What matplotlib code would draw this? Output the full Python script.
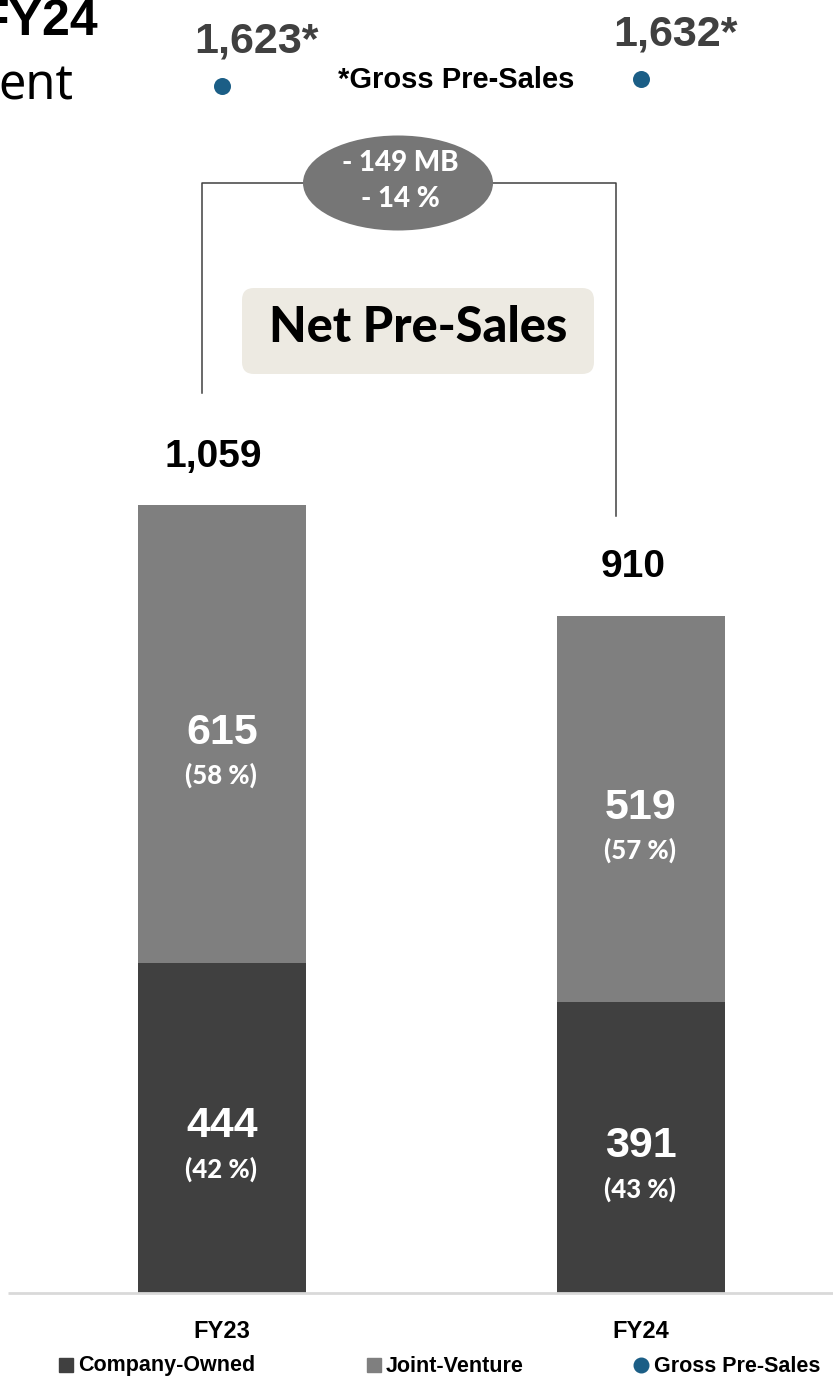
import matplotlib
matplotlib.use("Agg")
import matplotlib.pyplot as plt
from matplotlib.patches import Ellipse, FancyBboxPatch
from matplotlib.transforms import blended_transform_factory
import numpy as np

# ---- data -------------------------------------------------------------
periods = ["FY23", "FY24"]
company_owned = [444, 391]
joint_venture = [615, 519]
gross_presales = [1623, 1632]
legend_labels = ["Company-Owned", "Joint-Venture", "Gross Pre-Sales"]

# ---- style ------------------------------------------------------------
DARK = "#404040"
MID = "#7f7f7f"
BLUE = "#1b5e86"
OVAL = "#767676"
BOX = "#edeae2"
BASE = "#d9d9d9"
ARIAL = "Liberation Sans"
SOFT = "Lato"

W, H = 833, 1379
fig = plt.figure(figsize=(W / 100, H / 100), dpi=100)

# main data axes (baseline sits 86 px above the bottom edge)
ax = fig.add_axes([0, 86 / H, 1, 1 - 86 / H])
ax.set_xlim(-0.530, 1.458)
ax.set_ylim(0, 1738)
ax.axis("off")

# overlay in pixel coordinates for decorations
ov = fig.add_axes([0, 0, 1, 1], zorder=5)
ov.set_xlim(0, W)
ov.set_ylim(H, 0)
ov.axis("off")
ov.patch.set_alpha(0)

x = np.arange(len(periods))
co = np.array(company_owned)
jv = np.array(joint_venture)
totals = co + jv
width = 0.401

ax.bar(x, co, width, color=DARK, zorder=2)
ax.bar(x, jv, width, bottom=co, color=MID, zorder=2)
ax.scatter(x, gross_presales, s=150, color=BLUE, zorder=3, linewidths=0)

# baseline
ov.plot([8, W], [1293, 1293], color=BASE, lw=2, solid_capstyle="butt")

# segment labels
for xi, c, j, t in zip(x, co, jv, totals):
    for val, mid in ((c, c / 2), (j, c + j / 2)):
        ax.annotate(f"{val:,}", (xi, mid), xytext=(0, 1), textcoords="offset points",
                    ha="center", va="center", color="white", fontsize=31,
                    fontweight="bold", family=ARIAL, zorder=4)
        ax.annotate(f"({round(val / t * 100)} %)", (xi, mid), xytext=(-1, -30),
                    textcoords="offset points", ha="center", va="center",
                    color="white", fontsize=18.5, fontweight="black", family=SOFT,
                    zorder=4)
    # total on top
    ax.annotate(f"{t:,}", (xi, t), xytext=(-6, 35), textcoords="offset points",
                ha="center", va="center", color="black", fontsize=28,
                fontweight="bold", family=ARIAL)

# gross pre-sales values
for xi, g in zip(x, gross_presales):
    ax.annotate(f"{g:,}*", (xi, g), xytext=(25, 32), textcoords="offset points",
                ha="center", va="center", color=DARK, fontsize=31,
                fontweight="bold", family=ARIAL)

ov.text(456, 80, "*Gross Pre-Sales", ha="center", va="center", fontsize=21,
        fontweight="bold", family=ARIAL, color="black")

# change bracket
ov.plot([202, 202, 616, 616], [393, 183, 183, 516], color=DARK, lw=1.1, zorder=1)
ov.add_patch(Ellipse((398, 183), 190, 95, color=OVAL, zorder=2, lw=0))
diff = totals[1] - totals[0]
pct = diff / totals[0] * 100
ov.text(400, 163, f"- {abs(diff)} MB", ha="center", va="center", color="white",
        fontsize=20, fontweight="black", family=SOFT, zorder=3)
ov.text(400, 199, f"- {abs(round(pct))} %", ha="center", va="center", color="white",
        fontsize=20, fontweight="black", family=SOFT, zorder=3)

# title box
ov.add_patch(FancyBboxPatch((242 + 12, 288 + 12), 352 - 24, 86 - 24,
                            boxstyle="round,pad=12", color=BOX, lw=0, zorder=2))
ov.text(418, 328, "Net Pre-Sales", ha="center", va="center", fontsize=35,
        fontweight="black", family=SOFT, color="black", zorder=3)

# heading fragments at top-left
ov.text(98, 22, "FY24", ha="right", va="center", fontsize=36, fontweight="bold",
        family=ARIAL, color="black")
ov.text(73, 100, "ent", ha="right", va="baseline", fontsize=35,
        family="Noto Sans", color="black")

# category labels
bt = blended_transform_factory(ax.transData, ov.transData)
for xi, p in zip(x, periods):
    ov.text(xi, 1331, p, transform=bt, ha="center", va="center", fontsize=17,
            fontweight="bold", family=ARIAL, color="black")

# legend
items = [(66, "s", DARK, 78, legend_labels[0]),
         (374, "s", MID, 386, legend_labels[1]),
         (641, "o", BLUE, 654, legend_labels[2])]
for mx, m, col, tx, lab in items:
    ov.plot([mx], [1365], marker=m, color=col, markersize=10.5, lw=0)
    ov.text(tx, 1366, lab, ha="left", va="center", fontsize=15.5,
            fontweight="bold", family=ARIAL, color="black")

fig.savefig("out.png", dpi=100)
